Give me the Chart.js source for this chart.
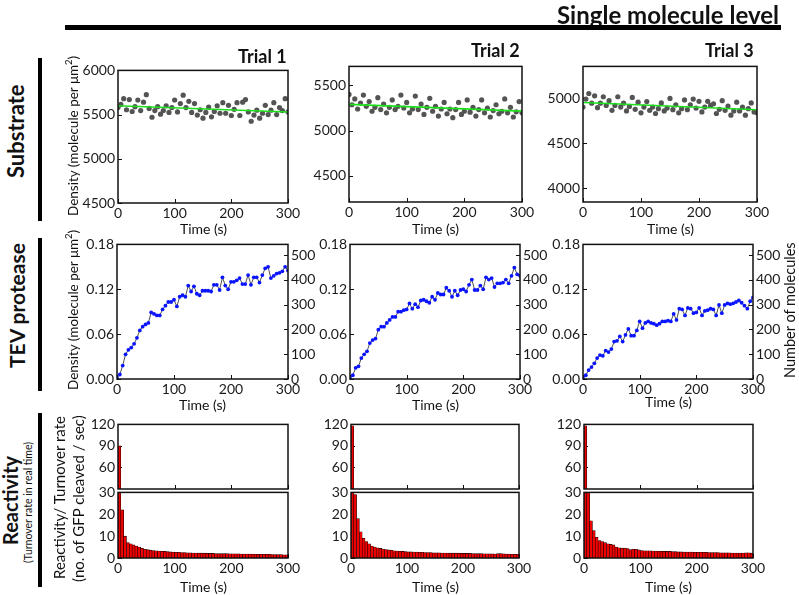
<!DOCTYPE html>
<html>
<head>
<meta charset="utf-8">
<script src="https://cdn.jsdelivr.net/npm/chart.js@4.4.1/dist/chart.umd.min.js"></script>
<style>
  body { margin: 0; background: #fff; width: 799px; height: 595px; position: relative; overflow: hidden; font-family: Lato, "Open Sans", sans-serif; color: #111; }
  .lbl { position: absolute; white-space: nowrap; line-height: 1; }
  .bar { position: absolute; background: #000; }
  canvas { position: absolute; }
</style>
</head>
<body>
<script>
// --- Data ---

// sample times (s)
const TIME_S = [0,5,10,15,20,25,30,35,40,45,50,55,60,65,70,75,80,85,90,95,100,105,110,115,120,125,130,135,140,145,150,155,160,165,170,175,180,185,190,195,200,205,210,215,220,225,230,235,240,245,250,255,260,265,270,275,280,285,290,295,300];
// histogram bin centres (s)
const BIN_MID = [2.5,7.5,12.5,17.5,22.5,27.5,32.5,37.5,42.5,47.5,52.5,57.5,62.5,67.5,72.5,77.5,82.5,87.5,92.5,97.5,102.5,107.5,112.5,117.5,122.5,127.5,132.5,137.5,142.5,147.5,152.5,157.5,162.5,167.5,172.5,177.5,182.5,187.5,192.5,197.5,202.5,207.5,212.5,217.5,222.5,227.5,232.5,237.5,242.5,247.5,252.5,257.5,262.5,267.5,272.5,277.5,282.5,287.5,292.5,297.5];

// Substrate density (molecule per um^2)
const SUB1 = [5580,5615,5680,5555,5670,5535,5590,5665,5545,5640,5725,5570,5470,5545,5590,5505,5545,5600,5525,5580,5665,5530,5625,5720,5580,5650,5525,5625,5495,5555,5460,5525,5585,5475,5535,5600,5515,5635,5515,5605,5490,5560,5635,5490,5640,5670,5530,5425,5495,5550,5460,5515,5605,5500,5550,5635,5500,5580,5545,5680,5530];
const SUB2 = [5400,5286,5350,5239,5304,5393,5268,5321,5214,5257,5364,5232,5293,5196,5257,5339,5232,5268,5393,5250,5311,5196,5239,5382,5232,5293,5179,5257,5357,5214,5268,5161,5239,5311,5186,5239,5143,5232,5311,5179,5214,5339,5204,5257,5161,5232,5339,5196,5250,5150,5221,5286,5186,5214,5350,5196,5257,5150,5207,5321,5196];
const SUB3 = [4900,4989,5050,4943,5025,4893,4943,5014,4918,4971,4864,4918,5014,4900,4943,4857,4907,5007,4875,4954,4836,4900,4961,4864,4900,4829,4882,4946,4857,4889,4996,4871,4925,4836,4882,4979,4871,4925,4989,4889,4964,4846,4900,4964,4918,4936,4829,4875,4971,4864,4911,4811,4857,4954,4857,4900,4811,4882,4946,4846,4836];
// linear fits (value at t=0 and t=300)
const FIT_T = [0, 300];
const FIT1 = [5600, 5530];
const FIT2 = [5290, 5215];
const FIT3 = [4950, 4870];

// TEV protease density
const TEV1 = [0.001,0.006,0.018,0.033,0.039,0.042,0.047,0.055,0.065,0.070,0.073,0.075,0.089,0.087,0.085,0.085,0.093,0.098,0.103,0.103,0.106,0.097,0.110,0.112,0.110,0.125,0.117,0.124,0.114,0.112,0.118,0.118,0.118,0.117,0.126,0.126,0.119,0.136,0.125,0.120,0.130,0.130,0.132,0.135,0.127,0.127,0.139,0.126,0.136,0.136,0.129,0.139,0.148,0.150,0.135,0.138,0.141,0.142,0.144,0.150,0.145];
const TEV2 = [0.001,0.005,0.015,0.017,0.028,0.033,0.037,0.048,0.052,0.054,0.066,0.070,0.070,0.075,0.079,0.083,0.083,0.090,0.090,0.092,0.093,0.101,0.094,0.100,0.096,0.105,0.106,0.104,0.102,0.110,0.106,0.115,0.113,0.113,0.122,0.118,0.110,0.118,0.112,0.119,0.120,0.117,0.126,0.133,0.119,0.119,0.125,0.120,0.136,0.133,0.135,0.123,0.128,0.128,0.129,0.133,0.128,0.138,0.149,0.140,0.138];
const TEV3 = [0.001,0.005,0.012,0.016,0.021,0.028,0.032,0.031,0.038,0.036,0.040,0.050,0.051,0.057,0.050,0.059,0.067,0.058,0.058,0.065,0.077,0.068,0.075,0.077,0.075,0.074,0.072,0.074,0.077,0.077,0.078,0.077,0.087,0.079,0.094,0.093,0.085,0.095,0.094,0.088,0.089,0.095,0.085,0.091,0.092,0.094,0.093,0.085,0.099,0.088,0.099,0.101,0.100,0.101,0.103,0.105,0.102,0.098,0.094,0.104,0.109];

// Reactivity / turnover rate (GFP cleaved / sec)
const RATE1 = [90,22,10,7,6.5,6,5.5,5,4.5,4,3.8,3.6,3.4,3.3,3.2,3.1,3.0,2.9,2.8,2.7,2.6,2.6,2.5,2.5,2.4,2.4,2.3,2.3,2.2,2.2,2.2,2.1,2.1,2.1,2.0,2.0,2.0,2.0,2.0,1.9,1.9,1.9,1.9,1.8,1.8,1.8,1.8,1.8,1.7,1.7,1.7,1.7,1.7,1.7,1.6,1.6,1.6,1.6,1.5,1.5];
const RATE2 = [118,29,18,12,9,7.5,6.5,5.5,5,4.7,4.4,4.1,3.9,3.7,3.5,3.3,3.2,3.1,3.0,2.9,2.8,2.8,2.7,2.7,2.6,2.6,2.5,2.5,2.5,2.4,2.4,2.4,2.3,2.3,2.3,2.2,2.2,2.2,2.2,2.1,2.1,2.1,2.1,2.0,2.0,2.0,2.0,1.9,1.9,1.9,1.9,1.8,2.0,2.0,1.9,1.8,1.8,1.7,1.7,1.7];
const RATE3 = [118,30,17,12.5,9.5,8,7.5,7,6.5,6.2,6,5,4.7,4.5,4.5,4.3,3.8,4.0,4.0,3.7,3.4,3.3,3.3,3.3,3.2,3.2,3.1,3.1,3.0,3.0,3.0,2.9,2.9,2.8,2.8,2.7,2.7,2.7,2.7,2.6,2.6,2.6,2.6,2.6,2.5,2.5,2.5,2.5,2.4,2.4,2.4,2.4,2.3,2.3,2.3,2.3,2.3,2.4,2.4,2.2];

// tick labels
const TIME_TICKS = [0, 100, 200, 300];
const SUB1_TICKS = [4500, 5000, 5500, 6000];
const SUB2_TICKS = [4500, 5000, 5500];
const SUB3_TICKS = [4000, 4500, 5000];
const TEV_TICKS = [0, 0.06, 0.12, 0.18];
const COUNT_TICKS = [0, 100, 200, 300, 400, 500];
const RATE_HI_TICKS = [60, 90, 120];
const RATE_LO_TICKS = [0, 10, 20, 30];

// --- Setup ---
Chart.defaults.font.family = 'Lato, "Open Sans", sans-serif';
Chart.defaults.font.size = 14;
Chart.defaults.color = '#1a1a1a';
Chart.defaults.animation = false;

const PAD_L = 60, PAD_R = 60, PAD_T = 8, PAD_B = 30;

const pts = (xs, ys) => ys.map((y, i) => ({ x: xs[i], y }));

// box frame + inward tick marks (matplotlib look)
const framePlugin = {
	id: 'frame',
	beforeDatasetsDraw(chart) {
		const { ctx, chartArea: a } = chart;
		ctx.save();
		ctx.strokeStyle = '#111';
		ctx.lineWidth = 1;
		Object.values(chart.scales).forEach(s => {
			s.ticks.forEach(t => {
				const p = Math.round(s.getPixelForValue(t.value)) + 0.5;
				ctx.beginPath();
				if (s.isHorizontal()) { ctx.moveTo(p, a.bottom); ctx.lineTo(p, a.bottom - 4); }
				else if (s.position === 'right') { ctx.moveTo(a.right, p); ctx.lineTo(a.right - 4, p); }
				else { ctx.moveTo(a.left, p); ctx.lineTo(a.left + 4, p); }
				ctx.stroke();
			});
		});
		ctx.restore();
	},
	afterDatasetsDraw(chart) {
		const { ctx, chartArea: a } = chart;
		ctx.save();
		ctx.strokeStyle = '#111';
		ctx.lineWidth = 1.5;
		ctx.strokeRect(a.left, a.top, a.right - a.left, a.bottom - a.top);
		ctx.restore();
	}
};

const fixTicks = vals => s => { s.ticks = vals.map(v => ({ value: v })); };

function xAxis(showLabels) {
	return {
		type: 'linear', min: 0, max: 300, offset: false,
		afterBuildTicks: fixTicks(TIME_TICKS),
		afterFit: s => { s.height = PAD_B; },
		grid: { display: false, drawTicks: false, offset: false },
		border: { display: false },
		ticks: { display: showLabels, padding: 2, maxRotation: 0, autoSkip: false, callback: v => String(v) }
	};
}

function yAxis(min, max, ticks, fmt, position = 'left') {
	return {
		type: 'linear', position, min, max,
		afterBuildTicks: fixTicks(ticks),
		afterFit: s => { s.width = position === 'left' ? PAD_L : PAD_R; },
		grid: { display: false, drawTicks: false },
		border: { display: false },
		ticks: { padding: 3, autoSkip: false, callback: fmt }
	};
}

// place a chart so its plot area lands on box {l,t,r,b}
function panel(box, config, hasRight) {
	const c = document.createElement('canvas');
	c.width = box.r - box.l + PAD_L + PAD_R;
	c.height = box.b - box.t + PAD_T + PAD_B;
	c.style.left = (box.l - PAD_L) + 'px';
	c.style.top = (box.t - PAD_T) + 'px';
	document.body.appendChild(c);
	config.options.responsive = false;
	config.options.devicePixelRatio = 1;
	config.options.layout = { padding: { top: PAD_T, right: hasRight ? 0 : PAD_R, left: 0, bottom: 0 } };
	config.options.plugins = { legend: { display: false }, tooltip: { enabled: false } };
	config.plugins = [framePlugin];
	return new Chart(c.getContext('2d'), config);
}

// --- Substrate row ---
function substrate(box, data, fit, yMin, yMax, ticks) {
	panel(box, {
		type: 'line',
		data: {
			datasets: [
				{ data: pts(FIT_T, fit), borderColor: '#1de01d', borderWidth: 1.6, pointRadius: 0 },
				{ data: pts(TIME_S, data), showLine: false, pointRadius: 2.6, pointBorderWidth: 0, pointBackgroundColor: '#545454' }
			]
		},
		options: { scales: { x: xAxis(true), y: yAxis(yMin, yMax, ticks, v => String(v)) } }
	}, false);
}

substrate({ l: 118, t: 67, r: 288, b: 203 }, SUB1, FIT1, 4500, 6000, SUB1_TICKS);
substrate({ l: 349, t: 63, r: 522, b: 202 }, SUB2, FIT2, 4210, 5710, SUB2_TICKS);
substrate({ l: 583, t: 63, r: 757, b: 202 }, SUB3, FIT3, 3850, 5350, SUB3_TICKS);

// --- TEV protease row ---
function tev(box, data) {
	panel(box, {
		type: 'line',
		data: {
			datasets: [{
				data: pts(TIME_S, data), borderColor: '#222', borderWidth: 0.8, tension: 0,
				pointRadius: 1.9, pointBorderWidth: 0, pointBackgroundColor: '#0a14ff'
			}]
		},
		options: {
			scales: {
				x: xAxis(true),
				y: yAxis(0, 0.18, TEV_TICKS, v => v.toFixed(2)),
				y1: yAxis(0, 543, COUNT_TICKS, v => String(v), 'right')
			}
		}
	}, true);
}

tev({ l: 117, t: 241, r: 288, b: 379 }, TEV1);
tev({ l: 350, t: 241, r: 520, b: 379 }, TEV2);
tev({ l: 583, t: 241, r: 753, b: 379 }, TEV3);

// --- Reactivity row (broken y axis: two stacked panels) ---
function rateBars(data) {
	return {
		type: 'bar',
		data: pts(BIN_MID, data),
		backgroundColor: '#f00000', borderColor: '#1a0000', borderWidth: 0.6,
		barPercentage: 1, categoryPercentage: 1
	};
}

function reactivity(l, r, data) {
	panel({ l, t: 421, r, b: 489 }, {
		type: 'bar',
		data: { datasets: [rateBars(data)] },
		options: { scales: { x: xAxis(false), y: yAxis(30, 120, RATE_HI_TICKS, v => String(v)) } }
	}, false);
	panel({ l, t: 489, r, b: 558 }, {
		type: 'bar',
		data: { datasets: [rateBars(data)] },
		options: { scales: { x: xAxis(true), y: yAxis(0, 30, RATE_LO_TICKS, v => String(v)) } }
	}, false);
}

reactivity(118, 288, RATE1);
reactivity(351, 519, RATE2);
reactivity(584, 753, RATE3);

// --- Figure labels ---
// (x, y) is the label centre; snapped to whole pixels so text stays crisp
function label(html, x, y, size, opts = {}) {
	const d = document.createElement('div');
	d.className = 'lbl';
	d.innerHTML = html;
	d.style.fontSize = size + 'px';
	if (opts.bold) d.style.fontWeight = 'bold';
	document.body.appendChild(d);
	const w = d.offsetWidth, h = d.offsetHeight;
	if (opts.rot) {
		d.style.transformOrigin = '0 0';
		d.style.transform = 'rotate(-90deg)';
		d.style.left = Math.round(x - h / 2) + 'px';
		d.style.top = Math.round(y + w / 2) + 'px';
	} else {
		d.style.left = Math.round(x - w / 2) + 'px';
		d.style.top = Math.round(y - h / 2) + 'px';
	}
}

function rule(x, y, w, h) {
	const d = document.createElement('div');
	d.className = 'bar';
	Object.assign(d.style, { left: x + 'px', top: y + 'px', width: w + 'px', height: h + 'px' });
	document.body.appendChild(d);
}

label('Single molecule level', 668, 15, 24, { bold: true });
rule(65, 25, 716, 5);

label('Trial 1', 262, 56, 18, { bold: true });
label('Trial 2', 495, 50, 18, { bold: true });
label('Trial 3', 729, 50, 18, { bold: true });

rule(38, 58, 4, 163);
rule(38, 238, 4, 153);
rule(38, 413, 4, 174);
label('Substrate', 16, 131, 22, { bold: true, rot: true });
label('TEV protease', 16, 305, 21, { bold: true, rot: true });
label('Reactivity', 10, 500, 20, { bold: true, rot: true });
label('(Turnover rate in real time)', 28, 502, 10.5, { rot: true });

const DENSITY_TITLE = 'Density (molecule per μm<sup style="font-size:0.7em">2</sup>)';
label(DENSITY_TITLE, 72, 136, 13.5, { rot: true });
label(DENSITY_TITLE, 72, 310, 13.5, { rot: true });
label('Reactivity/ Turnover rate', 59, 497, 15, { rot: true });
label('(no. of GFP cleaved / sec)', 78, 498, 15, { rot: true });
label('Number of molecules', 790, 310, 14.5, { rot: true });

[[203, 229], [435, 229], [670, 229], [202, 405], [435, 405], [668, 402], [203, 587], [435, 587], [668, 587]]
	.forEach(([x, y]) => label('Time (s)', x, y, 14));
</script>
</body>
</html>
